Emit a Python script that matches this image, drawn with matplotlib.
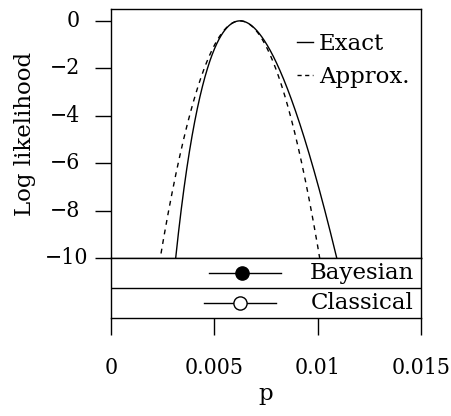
import numpy as np
import matplotlib
matplotlib.use("Agg")
import matplotlib.pyplot as plt
from matplotlib.lines import Line2D
from matplotlib import font_manager as fm

plt.rcParams['font.family'] = ['DejaVu Serif']

# ---- data ----
events = 52          # observed count
trials = 8333        # number of trials  (MLE p ~ 0.00624)
methods = ["Bayesian", "Classical"]
estimates = [0.00636, 0.00624]
lower = [0.00474, 0.00452]
upper = [0.00823, 0.00797]
marker_fill = ["black", "white"]
yticks = [0, -2, -4, -6, -8, -10]
xticks = [0, 0.005, 0.01, 0.015]
xticklabels = ["0", "0.005", "0.01", "0.015"]

W, H = 451, 416
fig = plt.figure(figsize=(W / 100, H / 100), dpi=100)

left, right = 111 / W, 421 / W
ax = fig.add_axes([left, 1 - 258 / H, right - left, (258 - 9) / H])
ax2 = fig.add_axes([left, 1 - 318 / H, right - left, 60 / H])

lw = 1.0
fs = 16.5
numfont = fm.FontProperties(family="DejaVu Serif", stretch="condensed", size=16.5)

# curves
p = np.linspace(0.0005, 0.0145, 2000)
phat = events / trials
ll = events * np.log(p) + (trials - events) * np.log1p(-p)
ll_max = events * np.log(phat) + (trials - events) * np.log1p(-phat)
exact = ll - ll_max
se2 = phat * (1 - phat) / trials
approx = -(p - phat) ** 2 / (2 * se2)

ax.plot(p, exact, color="black", lw=lw, solid_capstyle="butt")
ax.plot(p, approx, color="black", lw=lw, linestyle=(0, (3.5, 3.5)))
ax.set_xlim(0, 0.015)
ax.set_ylim(-10, 0.5)
ax.set_xticks([])
ax.set_yticks(yticks)
ax.set_yticklabels([])
ax.tick_params(axis="y", length=11.5, width=lw, direction="out")
for s in ax.spines.values():
    s.set_linewidth(lw)

# y tick labels placed with the axis transform
ytrans = ax.get_yaxis_transform()
for v in yticks:
    lab = "0" if v == 0 else "\u2212" + str(-v)
    xr = (88 - 111) / 310 if v == -10 else (80 - 111) / 310
    ax.text(xr, v, lab, transform=ytrans, ha="right", va="center",
            fontproperties=numfont)

ax.set_ylabel("Log likelihood", fontsize=fs, labelpad=39)

# legend
h1 = Line2D([], [], color="black", lw=lw)
h2 = Line2D([], [], color="black", lw=lw, linestyle=(0, (3, 2.5)))
leg = ax.legend([h1, h2], ["Exact", "Approx."], loc="upper right",
                frameon=False, fontsize=fs, handlelength=0.7,
                handletextpad=0.25, labelspacing=0.48,
                bbox_to_anchor=(1.0, 0.95), borderaxespad=0.1)

# interval panel
rows = [1.5, 0.5]
for m, e, lo, hi, fc, y in zip(methods, estimates, lower, upper, marker_fill, rows):
    ax2.plot([lo, hi], [y, y], color="black", lw=lw)
    ax2.plot([e], [y], marker="o", markersize=9.5, markerfacecolor=fc,
             markeredgecolor="black", markeredgewidth=lw)
    ax2.text(0.01466, y, m, ha="right", va="center", fontsize=fs)
ax2.axhline(1.0, color="black", lw=lw)
ax2.set_xlim(0, 0.015)
ax2.set_ylim(0, 2)
ax2.set_yticks([])
ax2.set_xticks(xticks)
ax2.set_xticklabels(xticklabels, fontproperties=numfont)
ax2.tick_params(axis="x", length=12.2, width=lw, direction="out", pad=16)
for s in ax2.spines.values():
    s.set_linewidth(lw)
ax2.set_xlabel("p", fontsize=fs, labelpad=3)

fig.savefig("out.png", dpi=100)
